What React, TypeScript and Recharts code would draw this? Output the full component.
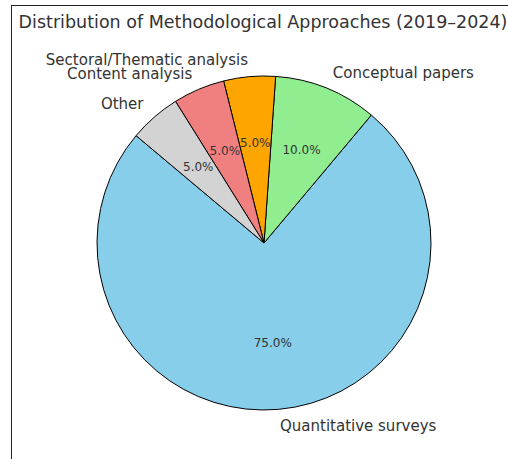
import { Cell, Pie, PieChart } from 'recharts'

const categories = [
  'Quantitative surveys',
  'Conceptual papers',
  'Sectoral/Thematic analysis',
  'Content analysis',
  'Other',
]
const shares = [75, 10, 5, 5, 5]
const colors = ['#87ceeb', '#90ee90', '#ffa500', '#f08080', '#d3d3d3']

const data = categories.map((name, i) => ({ name, value: shares[i] }))

const RADIAN = Math.PI / 180
const FONT = '"DejaVu Sans", sans-serif'
const TEXT = '#333'

// matplotlib-style labels: name at 1.1r, percentage at 0.6r
const renderLabel = (props: any) => {
  const { cx, cy, midAngle, outerRadius, percent, name } = props
  const cos = Math.cos(-midAngle * RADIAN)
  const sin = Math.sin(-midAngle * RADIAN)
  const lx = cx + outerRadius * 1.1 * cos
  const ly = cy + outerRadius * 1.1 * sin
  const px = cx + outerRadius * 0.6 * cos
  const py = cy + outerRadius * 0.6 * sin
  return (
    <g>
      <text
        x={lx}
        y={ly}
        textAnchor={lx >= cx ? 'start' : 'end'}
        dominantBaseline='central'
        fontSize={15}
        fontFamily={FONT}
        fill={TEXT}
      >
        {name}
      </text>
      <text
        x={px}
        y={py}
        textAnchor='middle'
        dominantBaseline='central'
        fontSize={12}
        fontFamily={FONT}
        fill={TEXT}
      >
        {`${(percent * 100).toFixed(1)}%`}
      </text>
    </g>
  )
}

const App = () => {
  return (
    <div
      style={{
        position: 'absolute',
        left: 0,
        top: 0,
        width: 508,
        height: 459,
        overflow: 'hidden',
        background: '#fff',
      }}
    >
      <div
        style={{
          position: 'absolute',
          left: 11,
          top: 5,
          width: 540,
          height: 500,
          border: '1.5px solid #222',
        }}
      />
      <div
        style={{
          position: 'absolute',
          left: 0,
          top: 12,
          width: 526,
          textAlign: 'center',
          fontFamily: FONT,
          fontSize: 17.5,
          color: TEXT,
          whiteSpace: 'nowrap',
        }}
      >
        Distribution of Methodological Approaches (2019–2024)
      </div>
      <div style={{ position: 'absolute', left: 0, top: 0 }}>
        <PieChart width={508} height={459} margin={{ top: 0, right: 0, bottom: 0, left: 0 }}>
          <Pie
            data={data}
            dataKey='value'
            nameKey='name'
            cx={264}
            cy={243}
            outerRadius={167}
            startAngle={140}
            endAngle={500}
            stroke='#000'
            strokeWidth={1}
            label={renderLabel}
            labelLine={false}
            isAnimationActive={false}
          >
            {data.map((d, i) => (
              <Cell key={d.name} fill={colors[i]} />
            ))}
          </Pie>
        </PieChart>
      </div>
    </div>
  )
}

export default App
